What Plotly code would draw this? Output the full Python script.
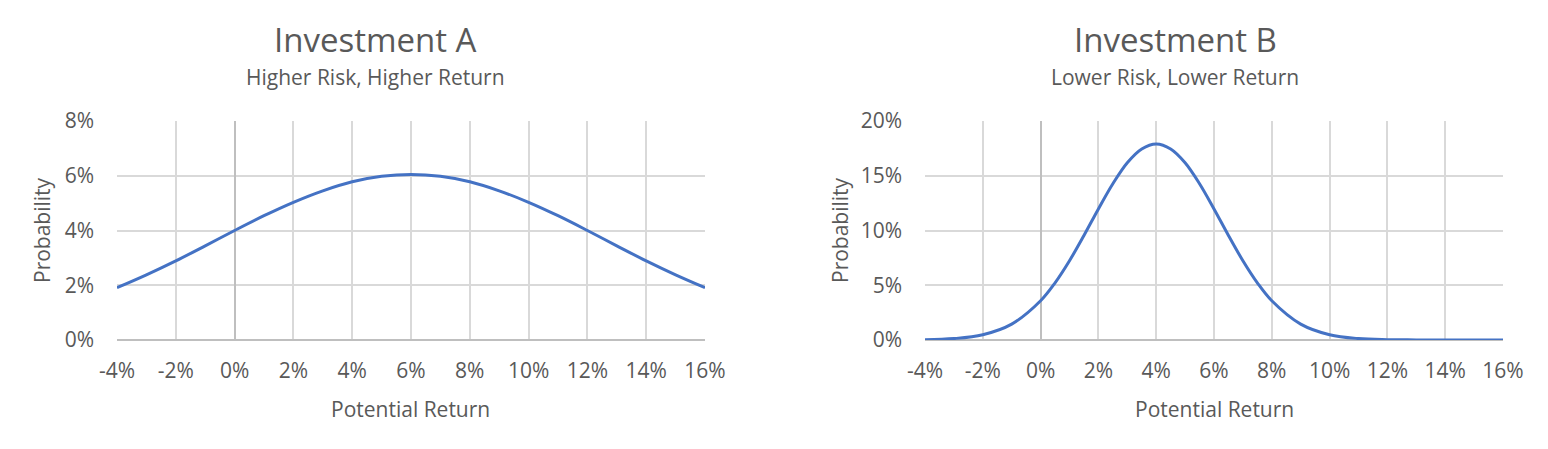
import plotly.graph_objects as go

# values (percent units)
returns_a = [-4, -3, -2, -1, 0, 1, 2, 3, 4, 5, 6, 7, 8, 9, 10, 11, 12, 13, 14, 15, 16]
prob_a = [1.91, 2.38, 2.89, 3.44, 4.00, 4.54, 5.03, 5.45, 5.78, 5.98, 6.05,
          5.98, 5.78, 5.45, 5.03, 4.54, 4.00, 3.44, 2.89, 2.38, 1.91]

returns_b = [-4, -3, -2, -1, 0, 0.5, 1, 1.5, 2, 2.5, 3, 3.5, 4, 4.5, 5, 5.5,
             6, 6.5, 7, 7.5, 8, 9, 10, 11, 12, 13, 14, 15, 16]
prob_b = [0.03, 0.13, 0.48, 1.45, 3.58, 5.22, 7.24, 9.55, 11.97, 14.27, 16.19,
          17.45, 17.90, 17.45, 16.19, 14.27, 11.97, 9.55, 7.24, 5.22, 3.58,
          1.45, 0.48, 0.13, 0.03, 0.01, 0.0, 0.0, 0.0]

x_ticks = [-4, -2, 0, 2, 4, 6, 8, 10, 12, 14, 16]
x_labels = ["-4%", "-2%", "0%", "2%", "4%", "6%", "8%", "10%", "12%", "14%", "16%"]
y_ticks_a = [0, 2, 4, 6, 8]
y_labels_a = ["0%", "2%", "4%", "6%", "8%"]
y_ticks_b = [0, 5, 10, 15, 20]
y_labels_b = ["0%", "5%", "10%", "15%", "20%"]

titles = ["Investment A", "Investment B"]
subtitles = ["Higher Risk, Higher Return", "Lower Risk, Lower Return"]

W, H = 1548, 449
OFF = 8  # page body margin
blue = "#4472C4"
grey_txt = "#595959"
grid = "#d9d9d9"
zero = "#bfbfbf"
font = "Open Sans"
fs = 21


def px(x):
    return (x - OFF) / W


def py(y):
    return 1 - (y - OFF) / H


fig = go.Figure()
fig.add_trace(go.Scatter(x=returns_a, y=prob_a, mode="lines", line=dict(color=blue, width=3, shape="spline"),
                         xaxis="x", yaxis="y", showlegend=False))
fig.add_trace(go.Scatter(x=returns_b, y=prob_b, mode="lines", line=dict(color=blue, width=3, shape="spline"),
                         xaxis="x2", yaxis="y2", showlegend=False))

xdom = [[px(117), px(705)], [px(925), px(1503)]]
ydom = [py(340), py(121)]

xa = dict(range=[-4, 16], tickvals=x_ticks, ticktext=x_labels, showgrid=True, gridcolor=grid, gridwidth=1.5,
          zeroline=True, zerolinecolor=zero, zerolinewidth=1.5, ticklabelstandoff=16, automargin=False,
          tickfont=dict(size=fs, color=grey_txt, family=font), fixedrange=True)
ya = dict(showgrid=True, gridcolor=grid, gridwidth=1.5, zeroline=True, zerolinecolor=zero, zerolinewidth=1.5,
          ticklabelstandoff=22, automargin=False, tickfont=dict(size=fs, color=grey_txt, family=font))

fig.update_layout(
    width=W, height=H, margin=dict(l=0, r=0, t=0, b=0, autoexpand=False),
    paper_bgcolor="white", plot_bgcolor="white",
    xaxis=dict(xa, domain=xdom[0], anchor="y"),
    yaxis=dict(ya, domain=ydom, anchor="x", range=[0, 8], tickvals=y_ticks_a, ticktext=y_labels_a),
    xaxis2=dict(xa, domain=xdom[1], anchor="y2"),
    yaxis2=dict(ya, domain=ydom, anchor="x2", range=[0, 20], tickvals=y_ticks_b, ticktext=y_labels_b),
)

title_x = [375, 1175]
plot_mid = [411, 1214]
ylab_x = [42, 840]
for i in range(2):
    common = dict(xref="paper", yref="paper", xanchor="center", yanchor="middle", showarrow=False)
    fig.add_annotation(text=titles[i], x=px(title_x[i]), y=py(40),
                       font=dict(size=33, color=grey_txt, family=font), **common)
    fig.add_annotation(text=subtitles[i], x=px(title_x[i]), y=py(77),
                       font=dict(size=fs, color=grey_txt, family=font), **common)
    fig.add_annotation(text="Potential Return", x=px(plot_mid[i]), y=py(409),
                       font=dict(size=fs, color=grey_txt, family=font), **common)
    fig.add_annotation(text="Probability", x=px(ylab_x[i]), y=py(230), textangle=-90,
                       font=dict(size=fs, color=grey_txt, family=font), **common)

fig.write_html("out.html")
